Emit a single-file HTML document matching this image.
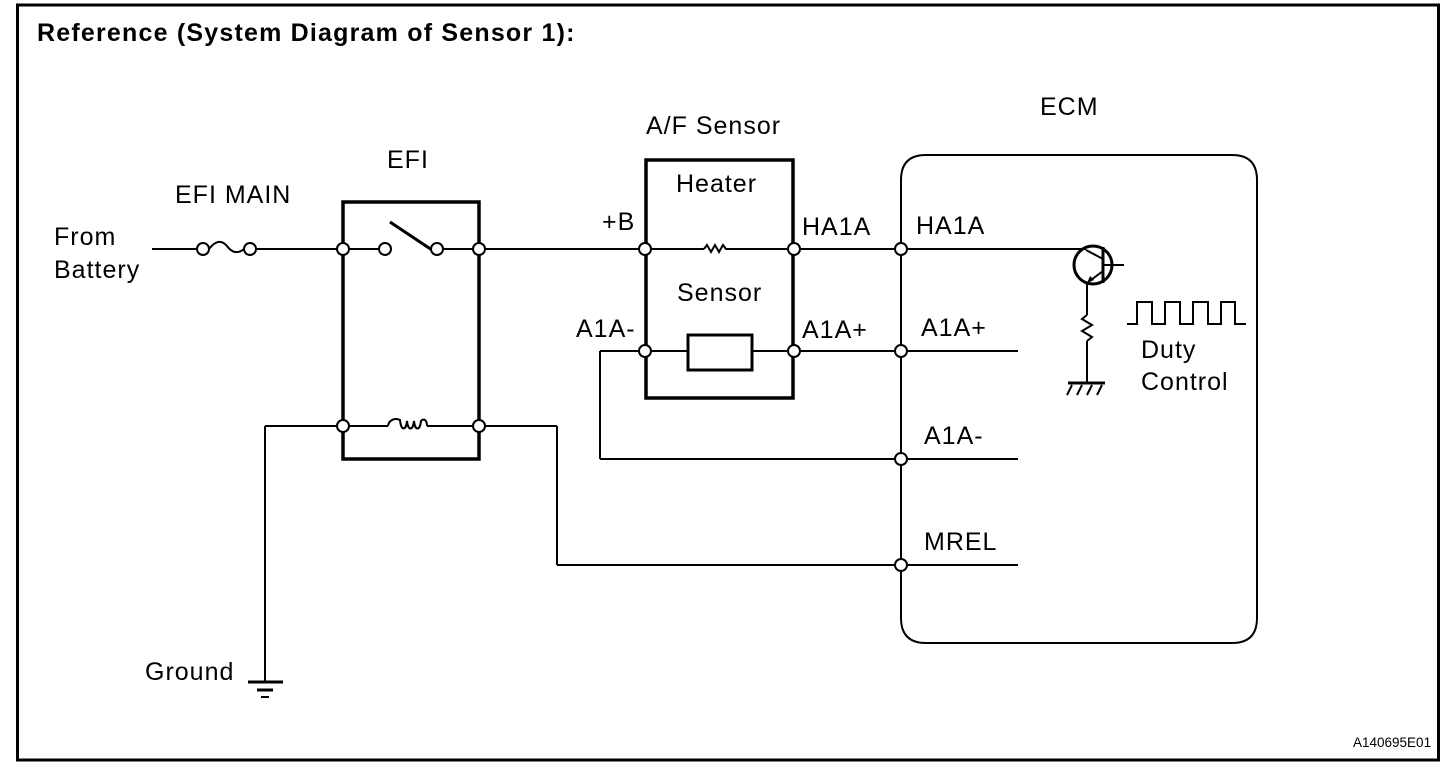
<!DOCTYPE html>
<html><head><meta charset="utf-8"><style>
html,body{margin:0;padding:0;background:#fff;}
svg{display:block;}
text{font-family:"Liberation Sans",Arial,sans-serif;font-size:25px;letter-spacing:1px;fill:#000;}
</style></head><body>
<svg width="1456" height="770" viewBox="0 0 1456 770" xmlns="http://www.w3.org/2000/svg">
<rect x="17.5" y="5" width="1421" height="755" fill="none" stroke="#000" stroke-width="3"/>
<text x="37" y="41" style="font-weight:bold;font-size:25px;letter-spacing:1.2px">Reference (System Diagram of Sensor 1):</text>

<g fill="none" stroke="#000" stroke-width="2">
<line x1="152" y1="249" x2="197" y2="249"/>
<path d="M209,249 C216,240 222,240 227,246 C232,253 238,254 244,249"/>
<line x1="256" y1="249" x2="337" y2="249"/>
<line x1="349" y1="249" x2="379" y2="249"/>
<line x1="443" y1="249" x2="473" y2="249"/>
<line x1="485" y1="249" x2="639" y2="249"/>
<line x1="265" y1="426" x2="337" y2="426"/>
<line x1="349" y1="426" x2="388" y2="426"/>
<path d="M388,426 C389,419 396,418 400,420 C401,431 406,431 407,421 C408,431 413,431 414,421 C415,431 420,431 421,421 C424,418 427,420 427,426"/>
<line x1="427" y1="426" x2="473" y2="426"/>
<line x1="485" y1="426" x2="557" y2="426"/>
<line x1="557" y1="426" x2="557" y2="565"/>
<line x1="557" y1="565" x2="895" y2="565"/>
<line x1="907" y1="565" x2="1018" y2="565"/>
<line x1="265" y1="426" x2="265" y2="682"/>
<line x1="651" y1="249" x2="704" y2="249"/>
<path d="M704,249 l3,-4 l4,7 l4,-7 l4,7 l4,-7 l3,4 l9,0"/>
<line x1="735" y1="249" x2="788" y2="249"/>
<line x1="800" y1="249" x2="895" y2="249"/>
<line x1="907" y1="249" x2="1086" y2="249"/>
<line x1="651" y1="351" x2="688" y2="351"/>
<line x1="752" y1="351" x2="788" y2="351"/>
<line x1="800" y1="351" x2="895" y2="351"/>
<line x1="907" y1="351" x2="1018" y2="351"/>
<line x1="639" y1="351" x2="600" y2="351"/>
<line x1="600" y1="351" x2="600" y2="459"/>
<line x1="600" y1="459" x2="895" y2="459"/>
<line x1="907" y1="459" x2="1018" y2="459"/>
<path d="M926,155 H1232 Q1257,155 1257,180 V618 Q1257,643 1232,643 H926 Q901,643 901,618 V180 Q901,155 926,155 Z"/>
<line x1="1087" y1="283" x2="1087" y2="315"/>
<path d="M1087,315 l-5,4 l10,6 l-10,6 l10,6 l-5,4"/>
<line x1="1087" y1="341" x2="1087" y2="383"/>
<line x1="1068" y1="383" x2="1105" y2="383" stroke-width="3"/>
<path d="M1072,385 l-5,10 M1082,385 l-5,10 M1092,385 l-5,10 M1102,385 l-5,10"/>
<line x1="1103" y1="265" x2="1124" y2="265"/>
<line x1="1086" y1="250" x2="1103" y2="259"/>
<line x1="1103" y1="271" x2="1087" y2="283"/>
<path d="M1127,324 H1137 V302 H1152 V324 H1165 V302 H1180 V324 H1193 V302 H1208 V324 H1221 V302 H1235 V324 H1246"/>
</g>
<circle cx="1093" cy="265" r="19" fill="none" stroke="#000" stroke-width="3"/>
<line x1="1103" y1="247" x2="1103" y2="283" stroke="#000" stroke-width="3"/>
<path d="M1087,283 l3,-7 l4,4 z" fill="#000"/>

<g stroke="#000" stroke-width="3">
<line x1="248" y1="682" x2="283" y2="682"/>
<line x1="257" y1="690" x2="273" y2="690"/>
<line x1="261" y1="697" x2="269" y2="697" stroke-width="2"/>
</g>
<rect x="343" y="202" width="136" height="257" fill="none" stroke="#000" stroke-width="3.5"/>
<line x1="390" y1="222" x2="432" y2="250" stroke="#000" stroke-width="3"/>
<rect x="646" y="160" width="147" height="238" fill="none" stroke="#000" stroke-width="3.5"/>
<rect x="688" y="335" width="64" height="35" fill="none" stroke="#000" stroke-width="3"/>

<g fill="#fff" stroke="#000" stroke-width="2">
<circle cx="203" cy="249" r="6"/><circle cx="250" cy="249" r="6"/>
<circle cx="343" cy="249" r="6"/><circle cx="385" cy="249" r="6"/>
<circle cx="437" cy="249" r="6"/><circle cx="479" cy="249" r="6"/>
<circle cx="343" cy="426" r="6"/><circle cx="479" cy="426" r="6"/>
<circle cx="645" cy="249" r="6"/><circle cx="794" cy="249" r="6"/>
<circle cx="645" cy="351" r="6"/><circle cx="794" cy="351" r="6"/>
<circle cx="901" cy="249" r="6"/><circle cx="901" cy="351" r="6"/>
<circle cx="901" cy="459" r="6"/><circle cx="901" cy="565" r="6"/>
</g>

<text x="54" y="245">From</text>
<text x="54" y="278">Battery</text>
<text x="175" y="203">EFI MAIN</text>
<text x="387" y="168">EFI</text>
<text x="646" y="134">A/F Sensor</text>
<text x="1040" y="115">ECM</text>
<text x="602" y="230">+B</text>
<text x="676" y="192">Heater</text>
<text x="802" y="235">HA1A</text>
<text x="677" y="301">Sensor</text>
<text x="576" y="337">A1A-</text>
<text x="802" y="338">A1A+</text>
<text x="916" y="234">HA1A</text>
<text x="921" y="336">A1A+</text>
<text x="924" y="444">A1A-</text>
<text x="924" y="550">MREL</text>
<text x="1141" y="358">Duty</text>
<text x="1141" y="390">Control</text>
<text x="145" y="680">Ground</text>
<text x="1353" y="747" style="font-size:13.5px;letter-spacing:0">A140695E01</text>
</svg>
</body></html>
